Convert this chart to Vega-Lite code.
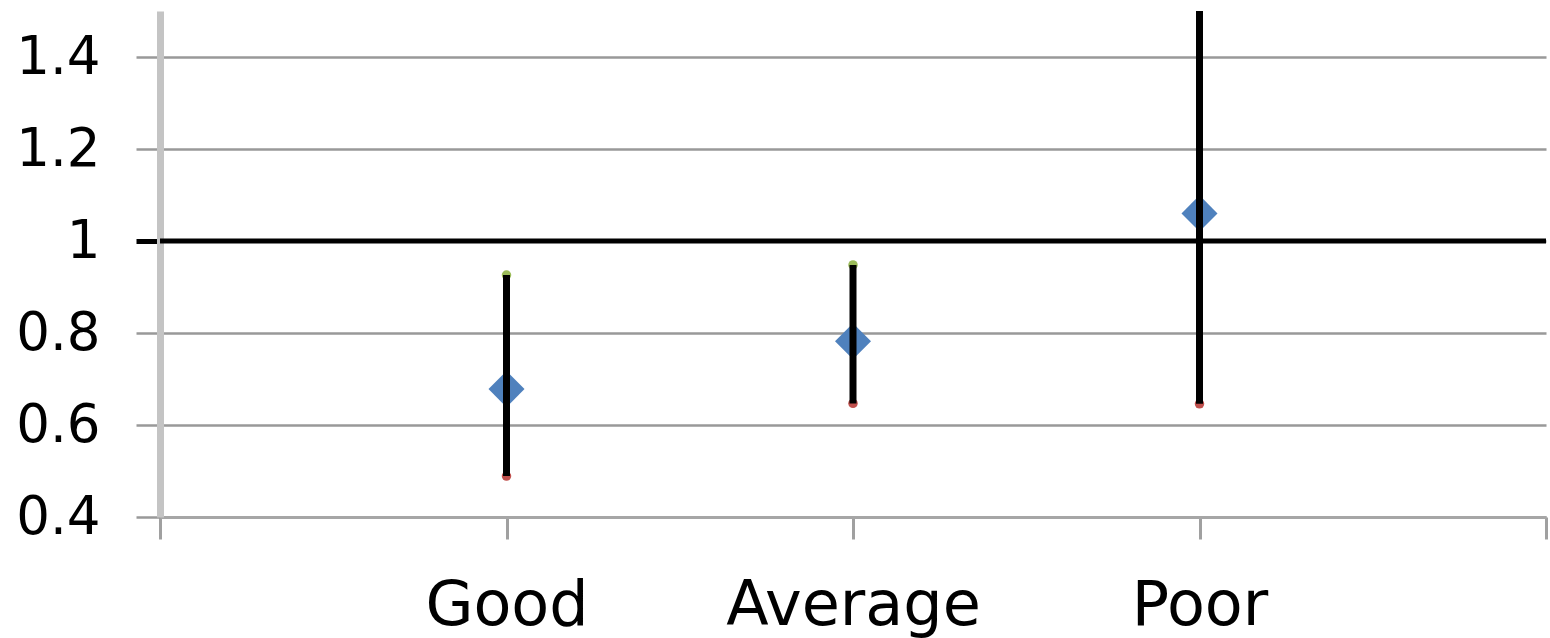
{
  "$schema": "https://vega.github.io/schema/vega-lite/v6.json",
  "width": 1386,
  "height": 506,
  "autosize": "none",
  "padding": {"left": 160, "top": 11, "right": 4, "bottom": 121},
  "background": "white",
  "config": {"view": {"stroke": null}},
  "data": {
    "values": [
      {"cat": "Good", "mean": 0.678, "lower": 0.489, "upper": 0.926},
      {"cat": "Average", "mean": 0.782, "lower": 0.647, "upper": 0.948},
      {"cat": "Poor", "mean": 1.06, "lower": 0.646, "upper": 1.75}
    ]
  },
  "encoding": {
    "x": {
      "field": "cat",
      "type": "nominal",
      "scale": {"type": "point", "domain": ["_0", "Good", "Average", "Poor", "_4"], "padding": 0},
      "axis": {
        "title": null,
        "labelAngle": 0,
        "labelLimit": 0,
        "labelExpr": "indexof(datum.value, '_') == 0 ? '' : datum.value",
        "labelFont": "DejaVu Sans",
        "labelFontSize": 62,
        "labelColor": "black",
        "labelPadding": 36,
        "domainColor": "#a6a6a6",
        "domainWidth": 3,
        "tickColor": "#a0a0a0",
        "tickWidth": 3,
        "tickSize": 22,
        "grid": false
      }
    }
  },
  "layer": [
    {
      "mark": {"type": "point", "shape": "diamond", "filled": true, "size": 1300, "color": "#4f81bd", "opacity": 1, "clip": true},
      "encoding": {
        "y": {
          "field": "mean",
          "type": "quantitative",
          "scale": {"domain": [0.4, 1.5], "nice": false, "zero": false},
          "axis": {
            "title": null,
            "values": [0.4, 0.6, 0.8, 1, 1.2, 1.4],
            "format": "~g",
            "labelFont": "DejaVu Sans",
            "labelFontSize": 53,
            "labelColor": "black",
            "labelPadding": 36,
            "domainColor": "#c4c4c4",
            "domainWidth": 7,
            "tickSize": 24,
            "tickColor": {"expr": "datum.value == 1 ? 'black' : '#999999'"},
            "tickWidth": {"expr": "datum.value == 1 ? 5 : 2.5"},
            "grid": true,
            "gridColor": "#999999",
            "gridWidth": 2.5,
            "gridOpacity": 1
          }
        }
      }
    },
    {
      "mark": {"type": "point", "shape": "circle", "filled": true, "size": 90, "color": "#9bbb59", "opacity": 1, "clip": true},
      "encoding": {"y": {"field": "upper", "type": "quantitative"}}
    },
    {
      "mark": {"type": "point", "shape": "circle", "filled": true, "size": 90, "color": "#c0504d", "opacity": 1, "clip": true},
      "encoding": {"y": {"field": "lower", "type": "quantitative"}}
    },
    {
      "mark": {"type": "rule", "color": "black", "strokeWidth": 7, "clip": true},
      "encoding": {
        "y": {"field": "lower", "type": "quantitative"},
        "y2": {"field": "upper"}
      }
    },
    {
      "data": {"values": [{"ref": 1}]},
      "mark": {"type": "rule", "color": "black", "strokeWidth": 5},
      "encoding": {
        "x": null,
        "y": {"field": "ref", "type": "quantitative"}
      }
    }
  ]
}
